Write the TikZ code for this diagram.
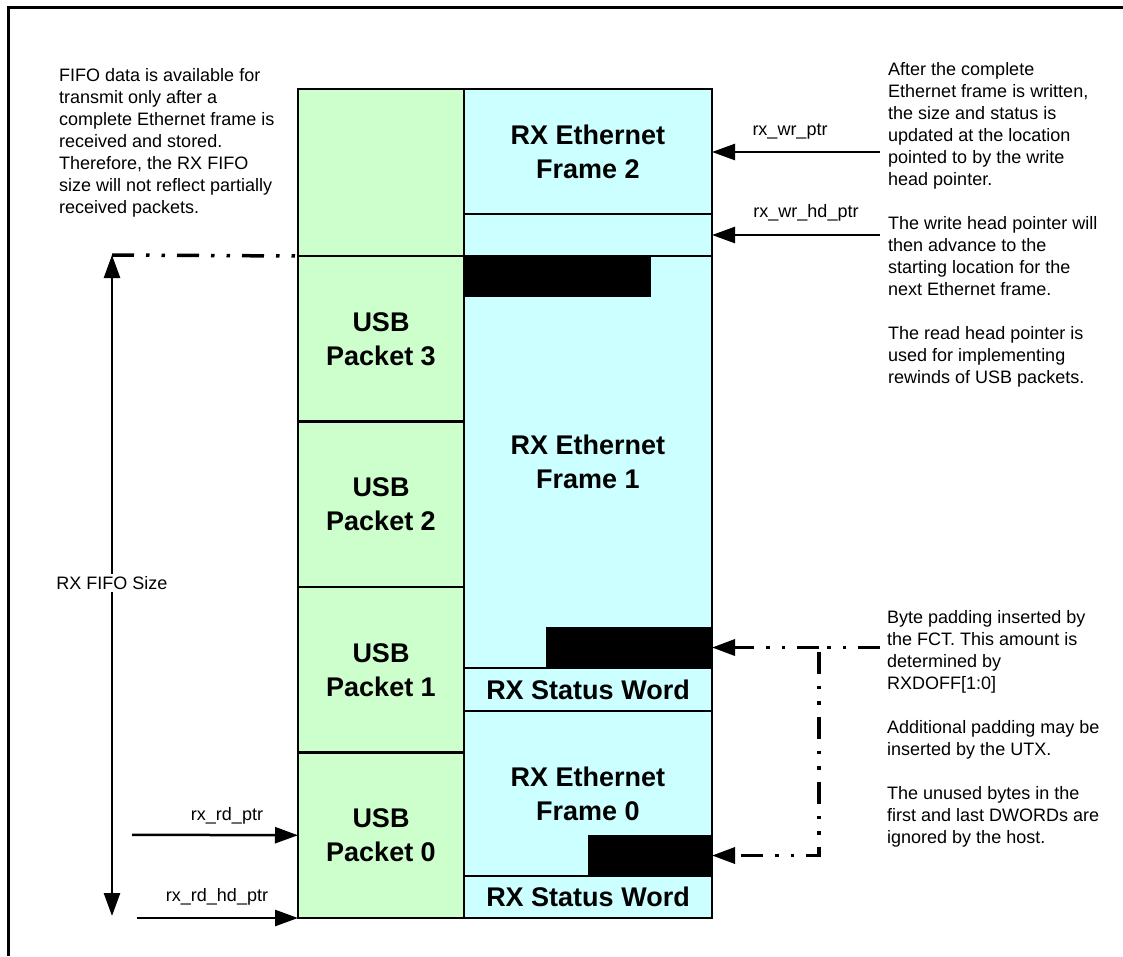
\documentclass[tikz,border=0pt]{standalone}
\usepackage{fontspec}
\setmainfont{Liberation Sans}
\usetikzlibrary{arrows.meta}
\definecolor{usbgreen}{RGB}{204,255,204}
\definecolor{ethblue}{RGB}{204,255,255}
\tikzset{
    fifobox/.style={draw, line width=2.5pt, inner sep=0pt, outer sep=0pt, align=center,
        font=\fontsize{27}{34}\selectfont\bfseries},
    usbbox/.style={fifobox, fill=usbgreen, minimum width=166pt},
    ethbox/.style={fifobox, fill=ethblue, minimum width=248pt},
    padblock/.style={fill=black, inner sep=0pt, outer sep=0pt},
    note/.style={align=left, inner sep=0pt, font=\fontsize{18}{22}\selectfont},
    ptrtip/.tip={Triangle[length=23pt, width=16pt]},
    ptr/.style={line width=2.5pt, -{ptrtip}},
    dashdotdot/.style={line width=3.5pt, dash pattern=on 22pt off 12pt on 3.5pt off 12pt on 3.5pt off 12pt},
}
\begin{document}
\begin{tikzpicture}[x=1pt, y=-1pt]
    \useasboundingbox (0,0) rectangle (1123,956);
    \draw[line width=3pt] (8,956) -- (8,7) -- (1123,7);

    % usb side
    \node[usbbox, minimum height=167pt] (usbtop) at (381,172.5) {};
    \foreach \i in {3,2,1,0} {
            \node[usbbox, minimum height=165.5pt] (usb\i) at (381,{256+(3-\i)*165.5+82.75}) {USB\\Packet \i};
        }

    % ethernet side
    \node[ethbox, minimum height=125pt] (fr2) at (588,151.5) {RX Ethernet\\Frame 2};
    \node[ethbox, minimum height=42pt] (hd) at (588,235) {};
    \node[ethbox, minimum height=412pt] (fr1) at (588,462) {RX Ethernet\\Frame 1};
    \node[ethbox, minimum height=43pt] (sw1) at (588,689.5) {RX Status Word};
    \node[ethbox, minimum height=165pt] (fr0) at (588,793.5) {RX Ethernet\\Frame 0};
    \node[ethbox, minimum height=42pt] (sw0) at (588,897) {RX Status Word};

    \node[padblock, minimum width=187pt, minimum height=41pt] (padtop) at (557.5,276.5) {};
    \node[padblock, minimum width=166pt, minimum height=41pt] (pad1) at (629,647.5) {};
    \node[padblock, minimum width=124pt, minimum height=41pt] (pad0) at (650,855.5) {};

    % pointers
    \coordinate (wrs) at (880,152);
    \coordinate (wrhds) at (880,235);
    \coordinate (rds) at (132,834.75);
    \coordinate (rdhds) at (137,918);
    \draw[ptr] (wrs) -- (wrs -| fr2.east);
    \draw[ptr] (wrhds) -- (hd.east);
    \draw[ptr] (rds) -- (usb0.west);
    \draw[ptr] (rdhds) -- (usb0.south west);
    \node[note] (wrlbl) at (790,132) {rx\_wr\_ptr};
    \node[note] (wrhdlbl) at (806,213) {rx\_wr\_hd\_ptr};
    \node[note] (rdlbl) at (227,816) {rx\_rd\_ptr};
    \node[note] (rdhdlbl) at (217,897) {rx\_rd\_hd\_ptr};

    % fifo size
    \coordinate (fifotop) at (112,255);
    \coordinate (fifobot) at (112,916);
    \draw[line width=2.5pt, {ptrtip}-{ptrtip}] (fifotop) -- (fifobot);
    \draw[dashdotdot] (fifotop) -- (usb3.north west);
    \node[note, fill=white, inner sep=2pt] (fifolbl) at (112,583) {RX FIFO Size};

    % padding
    \coordinate (padend) at (880,647.5);
    \coordinate (padj) at (819,647.5);
    \draw[dashdotdot, -{ptrtip}] (padj) -- (pad1.east);
    \draw[dashdotdot, -{ptrtip}] (padend) -- (padj) -- (padj |- pad0.east) -- (pad0.east);

    % notes
    \node[note, anchor=north west] (fifonote) at (59,68) {FIFO data is available for\\transmit only after a\\complete Ethernet frame is\\received and stored.\\Therefore, the RX FIFO\\size will not reflect partially\\received packets.};
    \node[note, anchor=north west] (wrnote) at (888,62) {After the complete\\Ethernet frame is written,\\the size and status is\\updated at the location\\pointed to by the write\\head pointer.\\[22pt]The write head pointer will\\then advance to the\\starting location for the\\next Ethernet frame.\\[22pt]The read head pointer is\\used for implementing\\rewinds of USB packets.};
    \node[note, anchor=north west] (padnote) at (887,610) {Byte padding inserted by\\the FCT. This amount is\\determined by\\RXDOFF[1:0]\\[22pt]Additional padding may be\\inserted by the UTX.\\[22pt]The unused bytes in the\\first and last DWORDs are\\ignored by the host.};
\end{tikzpicture}
\end{document}
